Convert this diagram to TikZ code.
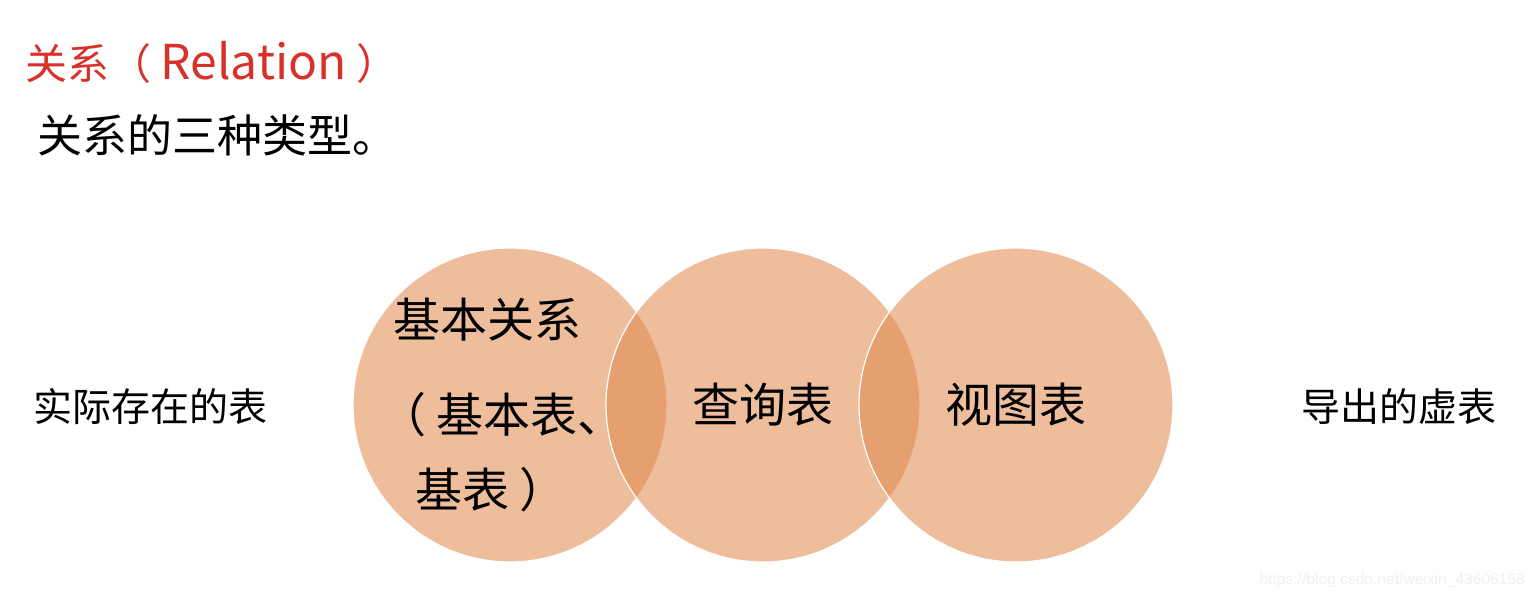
\documentclass[tikz,border=0pt]{standalone}
\usepackage{fontspec}
\setmainfont{Noto Sans CJK SC}
\newfontfamily\urlfont{Liberation Sans}
\definecolor{circfill}{HTML}{E0864A}
\definecolor{titlered}{HTML}{D8312A}

\tikzset{
	setcircle/.style={circle, fill=circfill, fill opacity=0.55, draw=white, line width=0.6pt, inner sep=0pt, minimum size=157pt},
	intext/.style={font=\fontsize{23.5}{26}\selectfont},
	sidetext/.style={anchor=west, font=\fontsize{19.5}{22}\selectfont},
}

\begin{document}
\begin{tikzpicture}[x=0.5pt, y=-0.5pt]
	
	\useasboundingbox (0, 0) rectangle (1538, 598);
	
	\node[anchor=west, text=titlered, font=\fontsize{21}{24}\selectfont] (title) at (18, 62) {关系（ {\fontsize{24}{26}\selectfont Relation} ）};
	\node[anchor=west, font=\fontsize{22.5}{25}\selectfont] (subtitle) at (30, 135) {关系的三种类型。};
	
	\node[setcircle] (base) at (510, 405) {};
	\node[setcircle] (query) at (763, 405) {};
	\node[setcircle] (view) at (1016, 405) {};
	
	\node[intext, anchor=west] (basea) at (386, 320) {基本关系};
	\node[intext, anchor=west] (baseb) at (372, 415) {（ 基本表、};
	\node[intext, anchor=west] (basec) at (408, 490) {基表 ）};
	\node[intext] (querytext) at (query) {查询表};
	\node[intext] (viewtext) at (view) {视图表};
	
	\node[sidetext] (real) at (26, 407) {实际存在的表};
	\node[sidetext] (virtual) at (1294, 407) {导出的虚表};
	
	\node[anchor=east, text=black!6, font=\urlfont\fontsize{7.8}{9}\selectfont] (url) at (1532, 580) {https://blog.csdn.net/weixin\_43606158};
	
\end{tikzpicture}
\end{document}
